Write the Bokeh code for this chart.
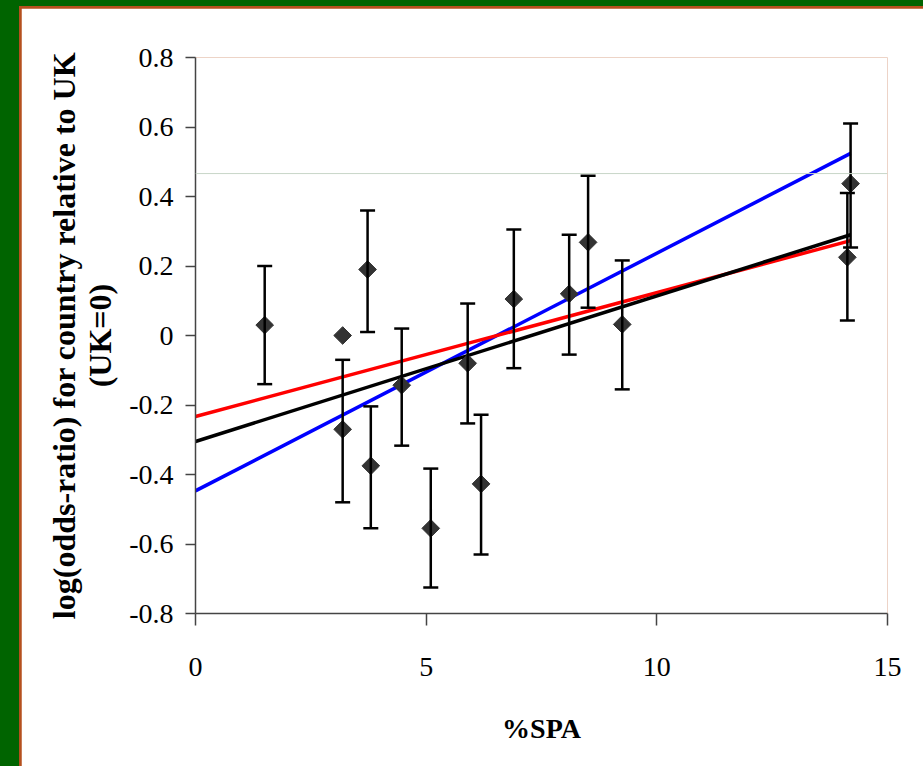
import numpy as np
from bokeh.plotting import figure
from bokeh.models import ColumnDataSource, Whisker, TeeHead, FixedTicker, Span
from bokeh.layouts import column
from bokeh.embed import file_html
from bokeh.resources import INLINE

# ---- data ----
spa = [1.50, 3.19, 3.19, 3.73, 3.80, 4.47, 5.10, 5.90, 6.19, 6.90, 8.10, 8.51, 9.25, 14.20, 14.13]
log_or = [0.03, 0.00, -0.27, 0.19, -0.375, -0.143, -0.555, -0.08, -0.427, 0.105, 0.12, 0.268, 0.032, 0.437, 0.225]
ci_low = [-0.14, None, -0.48, 0.01, -0.555, -0.317, -0.725, -0.253, -0.63, -0.094, -0.055, 0.08, -0.155, 0.253, 0.043]
ci_high = [0.20, None, -0.07, 0.36, -0.204, 0.02, -0.383, 0.092, -0.228, 0.305, 0.29, 0.46, 0.216, 0.61, 0.41]

fit_x = [0.0, 14.2]
fit_blue = [-0.447, 0.524]
fit_black = [-0.305, 0.290]
fit_red = [-0.233, 0.273]

y_ticks = [-0.8, -0.6, -0.4, -0.2, 0.0, 0.2, 0.4, 0.6, 0.8]
y_tick_labels = ["-0.8", "-0.6", "-0.4", "-0.2", "0", "0.2", "0.4", "0.6", "0.8"]
x_ticks = [0, 5, 10, 15]
x_tick_labels = ["0", "5", "10", "15"]

SERIF = "Liberation Serif"

p = figure(width=902, height=758, x_range=(0, 15), y_range=(-0.8, 0.8),
           output_backend="svg", toolbar_location=None,
           min_border_left=174, min_border_right=36, min_border_top=49, min_border_bottom=153)
p.margin = (2, 0, 0, 2)
p.background_fill_color = "white"
p.border_fill_color = "white"
p.outline_line_color = None
p.xgrid.visible = False
p.ygrid.visible = False

# thin slide guide line
p.add_layout(Span(location=0.466, dimension="width", line_color="#c8d6c8", line_width=1))

# fit lines
p.line(fit_x, fit_blue, line_color="#0000ff", line_width=3.5)
p.line(fit_x, fit_red, line_color="#ff0000", line_width=3.5)
p.line(fit_x, fit_black, line_color="#000000", line_width=3.5)

# error bars
eb = [(x, lo, hi) for x, lo, hi in zip(spa, ci_low, ci_high) if lo is not None]
eb_src = ColumnDataSource(dict(base=[e[0] for e in eb], lower=[e[1] for e in eb], upper=[e[2] for e in eb]))
w = Whisker(source=eb_src, base="base", lower="lower", upper="upper", dimension="height",
            line_color="black", line_width=2.5,
            upper_head=TeeHead(size=15, line_width=2.5, line_color="black"),
            lower_head=TeeHead(size=15, line_width=2.5, line_color="black"))
w.level = "glyph"
p.add_layout(w)

# points
p.scatter(spa, log_or, marker="square", angle=np.pi / 4, size=12.5,
          fill_color="#333333", line_color="#333333", line_width=1)

# axes
for ax in (p.xaxis[0], p.yaxis[0]):
    ax.axis_line_color = "#444444"
    ax.axis_line_width = 1.5
    ax.major_tick_line_color = "#444444"
    ax.major_tick_line_width = 1.5
    ax.major_tick_in = 0
    ax.minor_tick_line_color = None
    ax.major_label_text_font = SERIF
    ax.major_label_text_font_size = "28px"
    ax.major_label_text_color = "black"
    ax.axis_label_text_font = SERIF
    ax.axis_label_text_font_style = "bold"
    ax.axis_label_text_color = "black"

p.yaxis.ticker = FixedTicker(ticks=y_ticks)
p.yaxis.major_label_overrides = {t: l for t, l in zip(y_ticks, y_tick_labels)}
p.yaxis.major_tick_out = 10
p.yaxis.major_label_standoff = 12
p.yaxis.axis_label = "log(odds-ratio) for country relative to UK\n(UK=0)"
p.yaxis.axis_label_text_font_size = "32px"
p.yaxis.axis_label_text_line_height = 1.0
p.yaxis.axis_label_standoff = 8

p.xaxis.ticker = FixedTicker(ticks=x_ticks)
p.xaxis.major_label_overrides = {t: l for t, l in zip(x_ticks, x_tick_labels)}
p.xaxis.major_tick_out = 12
p.xaxis.major_label_standoff = 32
p.xaxis.axis_label = "%SPA"
p.xaxis.axis_label_text_font_size = "28px"
p.xaxis.axis_label_standoff = 34

inner = column(p, margin=(6, 0, 0, 19), styles={"background-color": "#b5501e"})
page = column(inner, styles={"background-color": "#006400"})

open("out.html", "w").write(file_html(page, INLINE))
